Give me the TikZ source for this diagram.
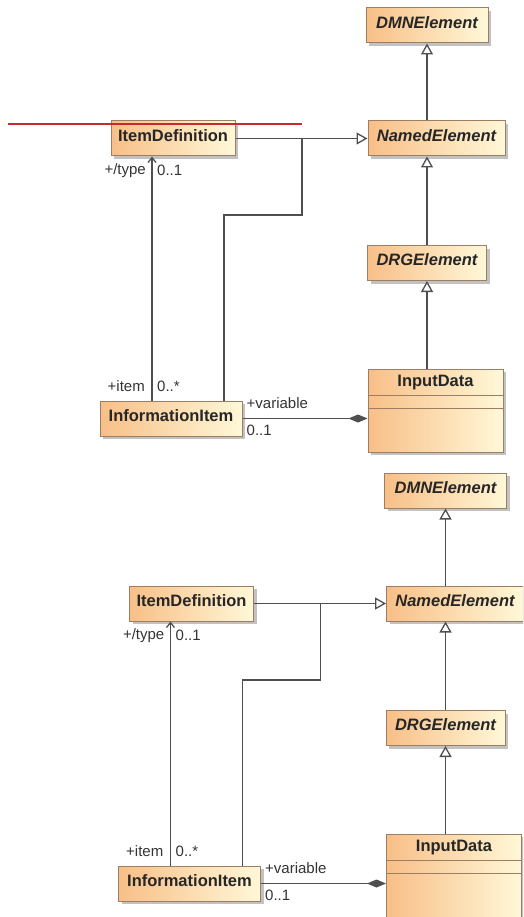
\documentclass[tikz,border=0pt]{standalone}
\usepackage{fontspec}
\setmainfont{Liberation Sans}
\usetikzlibrary{positioning, arrows.meta, calc, shadows}
\definecolor{BoxOrange}{HTML}{F8BF87}
\definecolor{BoxCream}{HTML}{FFF8D8}
\definecolor{BoxEdge}{HTML}{9E7E62}
\definecolor{LineGray}{HTML}{4F4F4F}
\definecolor{MarkRed}{HTML}{C62A2F}

\begin{document}
\begin{tikzpicture}[x=1pt, y=-1pt,
  cls/.style={draw=BoxEdge, line width=1pt, left color=BoxOrange, right color=BoxCream,
    font=\fontsize{16.5}{18}\selectfont\bfseries, text=black!85, minimum height=35pt,
    text depth=6pt, inner sep=0pt,
    drop shadow={shadow xshift=3pt, shadow yshift=-3pt, fill=black!40, opacity=0.6}},
  abs/.style={cls, font=\fontsize{16.5}{18}\selectfont\bfseries\itshape},
  lbl/.style={font=\fontsize{15}{17}\selectfont, text=black!80, inner sep=0pt},
  gen/.style={draw=LineGray, line width=1.3pt, -{Triangle[open, length=11pt, width=12pt]}},
  asc/.style={draw=LineGray, line width=1.3pt, -{Straight Barb[length=5pt, width=8pt]}},
  comp/.style={draw=LineGray, line width=1.3pt, -{Diamond[length=19pt, width=8pt, fill=LineGray]}},
]
  \useasboundingbox (0,0) rectangle (523,917);
  \clip (0,0) rectangle (523,917);

  % the same class diagram, twice
  \foreach \d/\sx/\sy in {a/0/0, b/18.5/465} {
  \begin{scope}[shift={(\sx,\sy)}]
    % classes
    \node[abs, minimum width=122pt] (dmn\d) at (427,25.5) {DMNElement};
    \node[abs, minimum width=137pt] (named\d) at (436.5,138.5) {NamedElement};
    \node[cls, minimum width=124pt] (itemdef\d) at (173,138.5) {ItemDefinition};
    \node[abs, minimum width=119pt] (drg\d) at (427,263) {DRGElement};
    \node[cls, minimum width=135pt, minimum height=83pt] (input\d) at (435.5,410.5) {};
    \node[font=\fontsize{16.5}{18}\selectfont\bfseries, text=black!85, inner sep=0pt,
      below=6pt of input\d.north] (inputname\d) {InputData};
    \draw[draw=BoxEdge, line width=1pt] ($(input\d.north west)+(0,27)$) -- ($(input\d.north east)+(0,27)$);
    \draw[draw=BoxEdge, line width=1pt] ($(input\d.north west)+(0,40)$) -- ($(input\d.north east)+(0,40)$);
    \node[cls, minimum width=142pt] (info\d) at (171,418.5) {InformationItem};

    % bends
    \coordinate (spur\d) at (224,215);
    \coordinate (join\d) at (302,215);
    \coordinate (nav\d) at (152,0);

    % generalizations
    \draw[gen] (named\d.north -| dmn\d.south) -- (dmn\d.south);
    \draw[gen] (drg\d.north) -- (drg\d.north |- named\d.south);
    \draw[gen] (input\d.north -| drg\d.south) -- (drg\d.south);
    \draw[gen] (itemdef\d.east) -- (named\d.west);
    \draw[draw=LineGray, line width=1.3pt] (info\d.north -| spur\d) |- (join\d) -- (join\d |- named\d.west);

    % association
    \draw[asc] (info\d.north -| nav\d) -- (itemdef\d.south -| nav\d);
    \node[lbl, anchor=east] (type\d) at ($(itemdef\d.south -| nav\d)+(-6,14)$) {+/type};
    \node[lbl, anchor=west] (typem\d) at ($(itemdef\d.south -| nav\d)+(5,14)$) {0..1};
    \node[lbl, anchor=east] (item\d) at ($(info\d.north -| nav\d)+(-7,-14)$) {+item};
    \node[lbl, anchor=west] (itemm\d) at ($(info\d.north -| nav\d)+(5,-14)$) {0..*};

    % composition
    \draw[comp] (info\d.east) -- (info\d.east -| input\d.west);
    \node[lbl, anchor=west] (var\d) at ($(info\d.east)+(4,-15)$) {+variable};
    \node[lbl, anchor=west] (varm\d) at ($(info\d.east)+(4,12)$) {0..1};
  \end{scope}
  }

  % red strike line
  \coordinate (redL) at (8,124);
  \coordinate (redR) at (302,124);
  \draw[MarkRed, line width=2.5pt] (redL) -- (redR);
\end{tikzpicture}
\end{document}
